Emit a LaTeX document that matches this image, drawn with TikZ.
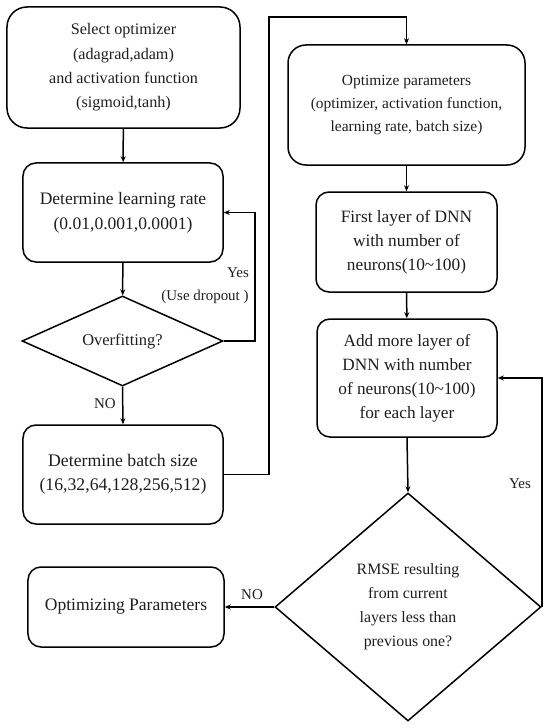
\documentclass[tikz,border=0pt]{standalone}
\usepackage{fontspec}
\setmainfont{Liberation Serif}
\usetikzlibrary{arrows.meta,positioning,shapes.geometric}
\definecolor{ink}{HTML}{1E1E1E}
\newcommand{\fs}[2]{\fontsize{#1}{#2}\selectfont}

\begin{document}
\begin{tikzpicture}[x=1bp,y=-1bp,line width=1.5bp,
    box/.style={draw,rounded corners=13bp,align=center,inner sep=0pt,text=ink},
    test/.style={draw,diamond,align=center,inner sep=0pt,text=ink},
    arr/.style={-{Stealth[length=6bp,width=5bp]}},
    lbl/.style={text=ink,font=\fs{15}{17}}]
    \useasboundingbox (0,0) rectangle (550,728);

    % left column
    \node[box,rounded corners=20bp,minimum width=233bp,minimum height=121bp,
      font=\fs{16.2}{24.5}] (sel) at (123.5,67.5)
      {Select optimizer\\(adagrad,adam)\\and activation function\\(sigmoid,tanh)};
    \node[box,minimum width=200bp,minimum height=99bp,font=\fs{17.6}{25}]
      (lr) at (123,212.5) {Determine learning rate\\(0.01,0.001,0.0001)};
    \node[test,aspect=2.2,minimum width=201bp,minimum height=90bp,
      font=\fs{16.5}{18}] (ovf) at (122.5,341) {Overfitting?};
    \node[box,minimum width=200bp,minimum height=99bp,font=\fs{17.8}{24}]
      (bat) at (123,474.5) {Determine batch size\\(16,32,64,128,256,512)};
    \node[box,minimum width=196bp,minimum height=80bp,font=\fs{17.6}{20}]
      (opt) at (126,607) {Optimizing Parameters};

    % right column
    \node[box,rounded corners=18bp,minimum width=237bp,minimum height=120bp,
      font=\fs{15.5}{23.5}] (par) at (406.5,105)
      {Optimize parameters\\(optimizer, activation function,\\learning rate, batch size)};
    \node[box,minimum width=181bp,minimum height=100bp,font=\fs{17.4}{24}]
      (fst) at (406.5,242) {First layer of DNN\\with number of\\neurons(10\textasciitilde100)};
    \node[box,minimum width=180bp,minimum height=118bp,font=\fs{17.3}{24}]
      (add) at (407,378)
      {Add more layer of\\DNN with number\\of neurons(10\textasciitilde100)\\for each layer};
    \node[test,aspect=1.17,minimum width=266bp,minimum height=228bp,
      font=\fs{15.9}{24}] (rmse) at (408,607)
      {RMSE resulting\\from current\\layers less than\\previous one?};

    \coordinate (turn) at (269,17);

    \draw[arr] (sel) -- (lr);
    \draw[arr] (lr) -- (ovf);
    \draw[arr] (ovf.east) -- ++(31,0) |- (lr.east);
    \node[lbl] (yes1) at (238,273) {Yes};
    \node[lbl] (drop) at (205,297) {(Use dropout )};
    \draw[arr] (ovf.south) -- (bat.north);
    \node[lbl] (no1) at (105,404) {NO};
    \draw[arr] (bat.east) -| (turn) -| (par.north);
    \draw[arr] (par) -- (fst);
    \draw[arr] (fst) -- (add);
    \draw[arr] (add.south) -- (rmse.north);
    \draw[arr] (rmse.east) |- (add.east);
    \node[lbl] (yes2) at (520,484) {Yes};
    \draw[arr] (rmse.west) -- (opt.east);
    \node[lbl] (no2) at (252,595) {NO};
\end{tikzpicture}
\end{document}
